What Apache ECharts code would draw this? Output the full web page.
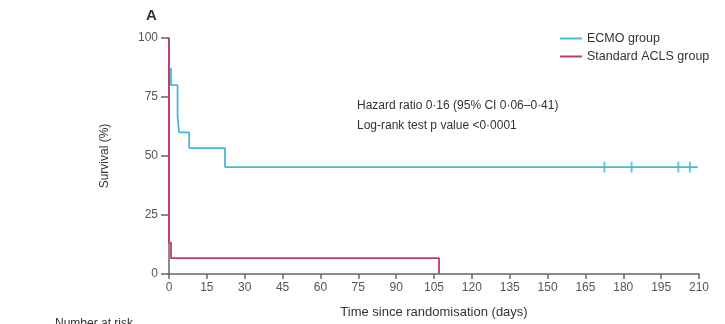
<!DOCTYPE html>
<html>
<head>
<meta charset="utf-8">
<script src="https://cdn.jsdelivr.net/npm/echarts@6/dist/echarts.min.js"></script>
<style>
  html, body { margin: 0; padding: 0; background: #fff; }
  #chart { width: 725px; height: 324px; }
</style>
</head>
<body>
<div id="chart"></div>
<script>
  // Kaplan-Meier steps: [days, survival %]
  var ecmoSteps = [[0, 100], [0, 87], [0.8, 80], [3.4, 66.7], [4, 60], [8, 53.3], [22.2, 45.3], [209.5, 45.3]];
  var aclsSteps = [[0, 100], [0, 13.3], [0.8, 6.7], [107, 6.7], [107, 0]];
  // censored ECMO patients
  var ecmoCensored = [[172.5, 45.3], [183.3, 45.3], [201.8, 45.3], [206.4, 45.3]];
  var xTicks = [0, 15, 30, 45, 60, 75, 90, 105, 120, 135, 150, 165, 180, 195, 210];
  var yTicks = [0, 25, 50, 75, 100];

  var blue = '#45b9d6';
  var red = '#c43a62';
  var font = "'Liberation Sans', Arial, sans-serif";

  var myChart = echarts.init(document.getElementById('chart'));
  myChart.setOption({
    animation: false,
    textStyle: { fontFamily: font },
    grid: { left: 169, right: 26, top: 38, bottom: 49 },
    legend: {
      data: ['ECMO group', 'Standard ACLS group'],
      orient: 'vertical',
      left: 560, top: 32, padding: 0,
      itemWidth: 22, itemHeight: 2, itemGap: 5,
      icon: 'rect',
      textStyle: { fontSize: 12.5, color: '#333', fontFamily: font }
    },
    xAxis: {
      type: 'value',
      min: xTicks[0], max: xTicks[xTicks.length - 1], interval: 15,
      name: 'Time since randomisation (days)',
      nameLocation: 'middle', nameGap: 32,
      nameTextStyle: { fontSize: 13, color: '#333' },
      axisLine: { lineStyle: { color: '#666', width: 1.5 } },
      axisTick: { length: 5, lineStyle: { color: '#666', width: 1.5 } },
      axisLabel: { fontSize: 12, color: '#555', margin: 8 },
      splitLine: { show: false }
    },
    yAxis: {
      type: 'value',
      min: yTicks[0], max: yTicks[yTicks.length - 1], interval: 25,
      name: 'Survival (%)',
      nameLocation: 'middle', nameGap: 58, nameRotate: 90,
      nameTextStyle: { fontSize: 12, color: '#333' },
      axisLine: { show: true, lineStyle: { color: '#666', width: 1.5 } },
      axisTick: { show: true, length: 8, lineStyle: { color: '#666', width: 1.5 } },
      axisLabel: { fontSize: 12, color: '#555', margin: 11 },
      splitLine: { show: false }
    },
    graphic: [
      { type: 'text', left: 146, top: 8, style: { text: 'A', font: 'bold 15px ' + font, fill: '#333' } },
      { type: 'text', left: 357, top: 96, style: {
          text: 'Hazard ratio 0·16 (95% CI 0·06–0·41)\nLog-rank test p value <0·0001',
          font: '12px ' + font, fill: '#333', lineHeight: 20 } },
      { type: 'text', left: 55, top: 318, style: { text: 'Number at risk', font: '12px ' + font, fill: '#333' } }
    ],
    series: [{
      name: 'ECMO group',
      type: 'line',
      step: 'end',
      data: ecmoSteps,
      symbol: 'none',
      color: blue,
      lineStyle: { width: 1.8, color: blue }
    }, {
      name: 'ECMO censored',
      type: 'scatter',
      data: ecmoCensored,
      symbol: 'rect',
      symbolSize: [2, 11],
      itemStyle: { color: blue }
    }, {
      name: 'Standard ACLS group',
      type: 'line',
      step: 'end',
      data: aclsSteps,
      symbol: 'none',
      color: red,
      lineStyle: { width: 1.8, color: red }
    }]
  });
</script>
</body>
</html>
